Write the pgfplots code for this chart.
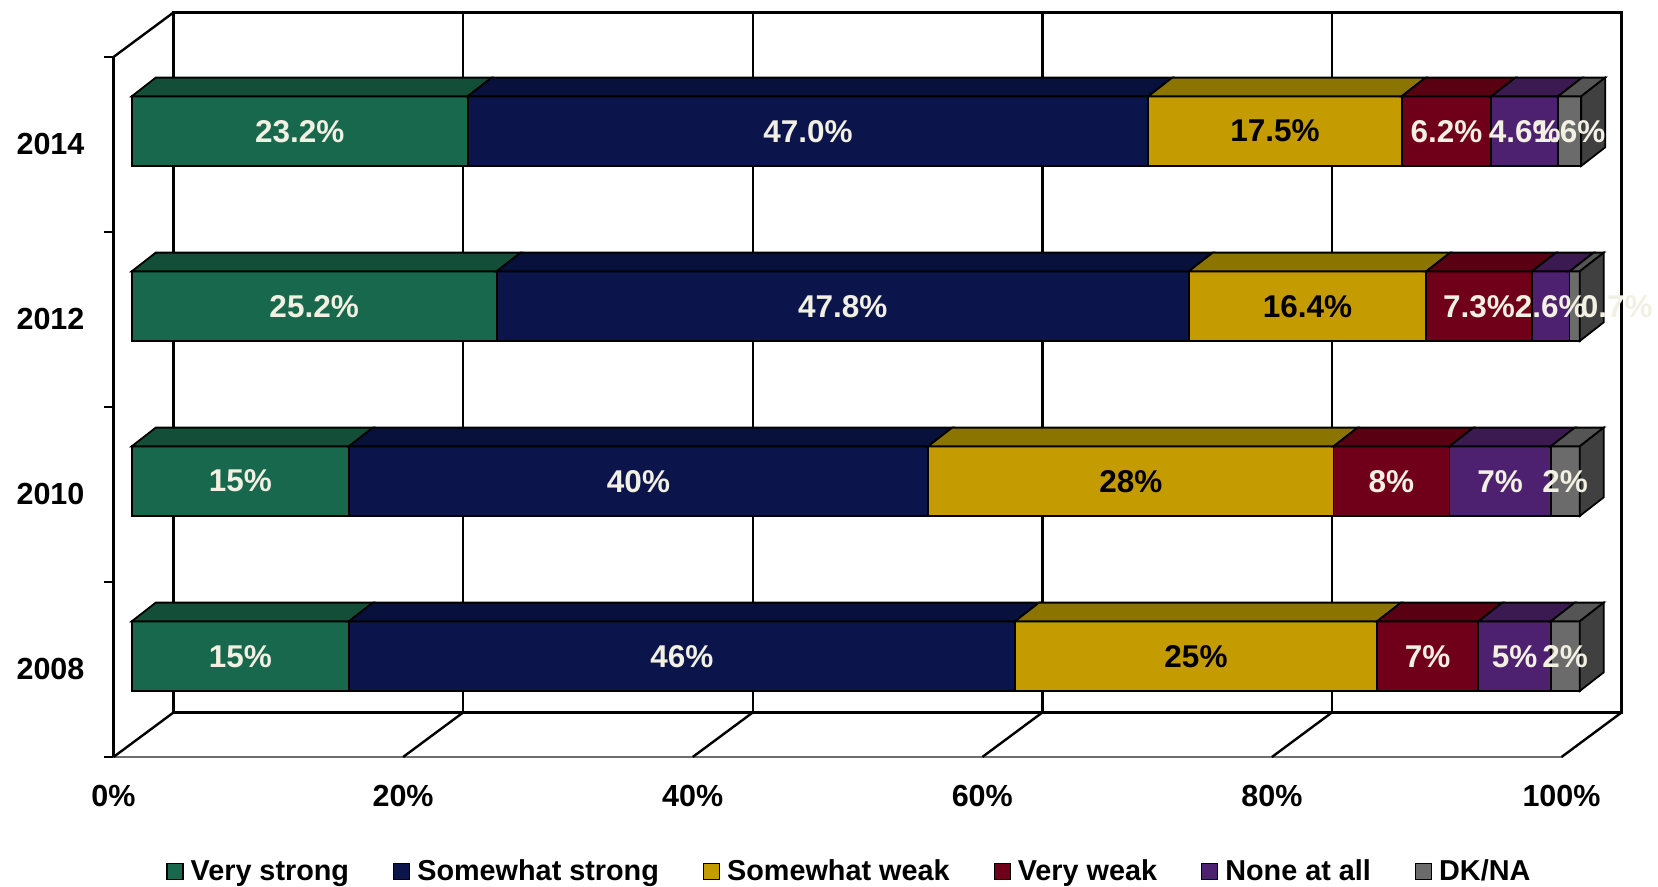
\documentclass[border=0pt]{standalone}
\usepackage{fontspec}
\setmainfont{Liberation Sans}
\usepackage{pgfplots}
\usepackage{pgfplotstable}
\pgfplotsset{compat=1.18}

% front faces, top faces and the dark end face
\definecolor{col1}{HTML}{17684C}\definecolor{top1}{HTML}{134F38}
\definecolor{col2}{HTML}{0B154C}\definecolor{top2}{HTML}{08103C}
\definecolor{col3}{HTML}{C49B00}\definecolor{top3}{HTML}{8B7400}
\definecolor{col4}{HTML}{70001A}\definecolor{top4}{HTML}{590013}
\definecolor{col5}{HTML}{4E2170}\definecolor{top5}{HTML}{3B1A52}
\definecolor{col6}{HTML}{6B6B6B}\definecolor{top6}{HTML}{555555}
\definecolor{side6}{HTML}{404040}
\definecolor{labelcream}{HTML}{F2F0E2}
\definecolor{floorgray}{HTML}{6E6E6E}

% s1 Very strong, s2 Somewhat strong, s3 Somewhat weak,
% s4 Very weak, s5 None at all, s6 DK/NA; prec = decimals shown;
% dkshift = sideways nudge (pt) of the DK/NA label
\pgfplotstableread{
year prec dkshift s1   s2   s3   s4  s5  s6
2008 0    0       15   46   25   7   5   2
2010 0    0       15   40   28   8   7   2
2012 1    21      25.2 47.8 16.4 7.3 2.6 0.7
2014 1    0       23.2 47.0 17.5 6.2 4.6 1.6
}\strengthdata

% depth geometry in axis units
\def\Fx{1.257}\def\Fy{0.076}   % front face of the bars behind the front plane
\def\Bx{1.66}\def\By{0.107}    % depth of the bars
\def\hh{0.199}                 % half bar height

\newcommand\ticklabelfont{\fontsize{15.25}{18}\selectfont\bfseries}
\newcommand\barfont{\fontsize{15.75}{18}\selectfont\bfseries}
\newcommand\legendfont{\fontsize{14.4}{17}\selectfont\bfseries}

\tikzset{frame/.style={draw=black, line width=1.2pt}}

\begin{document}
\begin{tikzpicture}
\begin{axis}[
  x=7.24pt, y=87.5pt,
  xmin=0, xmax=100, ymin=-0.5, ymax=3.5,
  clip=false,
  axis lines*=left,
  x axis line style={draw=floorgray, line width=0.7pt},
  y axis line style={draw=black, line width=1.2pt},
  xtick={0,20,...,100},
  xticklabels={0\%,20\%,40\%,60\%,80\%,100\%},
  ytick={0,1,2,3},
  yticklabels={2008,2010,2012,2014},
  minor ytick={-0.5,0.5,...,3.5},
  major tick length=0pt,
  minor tick length=4.5pt,
  tick align=outside,
  every minor tick/.append style={draw=black, line width=1.2pt},
  xticklabel style={anchor=center, yshift=-19.5pt},
  yticklabel style={anchor=center, xshift=-31.5pt},
  ticklabel style={font=\ticklabelfont},
  legend columns=6,
  legend cell align=left,
  legend image code/.code={\draw[#1, draw=black, line width=0.6pt] (0pt,-4pt) rectangle (8pt,4pt);},
  legend style={draw=none, fill=none, inner sep=0pt,
    at={(0.0363,-0.1639)}, anchor=west, font=\legendfont,
    nodes={inner sep=0pt},
    /tikz/every odd column/.append style={column sep=3.5pt},
    /tikz/every even column/.append style={column sep=22pt}},
]

% back wall with its grid, floor and left wall edges
\draw[frame] (axis cs:4.144,-0.2457) rectangle (axis cs:104.144,3.7543);
\draw[frame] (axis cs:24.144,-0.2457) -- (axis cs:24.144,3.7543);
\draw[frame] (axis cs:44.144,-0.2457) -- (axis cs:44.144,3.7543);
\draw[frame] (axis cs:64.144,-0.2457) -- (axis cs:64.144,3.7543);
\draw[frame] (axis cs:84.144,-0.2457) -- (axis cs:84.144,3.7543);
\draw[frame] (axis cs:0,-0.5) -- (axis cs:4.144,-0.2457);
\draw[frame] (axis cs:20,-0.5) -- (axis cs:24.144,-0.2457);
\draw[frame] (axis cs:40,-0.5) -- (axis cs:44.144,-0.2457);
\draw[frame] (axis cs:60,-0.5) -- (axis cs:64.144,-0.2457);
\draw[frame] (axis cs:80,-0.5) -- (axis cs:84.144,-0.2457);
\draw[frame] (axis cs:100,-0.5) -- (axis cs:104.144,-0.2457);
\draw[frame] (axis cs:0,3.5) -- (axis cs:4.144,3.7543);

% stacked 3D bars: front face, top face, end face
\pgfplotsforeachungrouped \ii in {0,...,23}{%
  \pgfmathtruncatemacro\rr{floor(\ii/6)}%
  \pgfmathtruncatemacro\cc{mod(\ii,6)+1}%
  \ifnum\cc=1 \def\acc{0}\fi
  \pgfplotstablegetelem{\rr}{s\cc}\of\strengthdata
  \let\val\pgfplotsretval
  \pgfmathsetmacro\xa{\acc+\Fx}%
  \pgfmathsetmacro\xb{\acc+\val+\Fx}%
  \pgfmathsetmacro\ylo{\rr+\Fy-\hh}%
  \pgfmathsetmacro\yhi{\rr+\Fy+\hh}%
  \pgfmathsetmacro\xaa{\xa+\Bx}%
  \pgfmathsetmacro\xbb{\xb+\Bx}%
  \pgfmathsetmacro\yhh{\yhi+\By}%
  \pgfmathsetmacro\yll{\ylo+\By}%
  \edef\cmd{\noexpand\addplot[fill=col\cc, draw=black, line width=0.9pt, forget plot]
    coordinates {(\xa,\ylo) (\xb,\ylo) (\xb,\yhi) (\xa,\yhi)} -- cycle;
    \noexpand\addplot[fill=top\cc, draw=black, line width=0.9pt, forget plot]
    coordinates {(\xa,\yhi) (\xb,\yhi) (\xbb,\yhh) (\xaa,\yhh)} -- cycle;}%
  \cmd
  \ifnum\cc=6
    \edef\cmd{\noexpand\addplot[fill=side6, draw=black, line width=0.9pt, forget plot]
      coordinates {(\xb,\ylo) (\xbb,\yll) (\xbb,\yhh) (\xb,\yhi)} -- cycle;}%
    \cmd
  \fi
  \pgfmathsetmacro\acc{\acc+\val}%
}

% value labels on the front faces
\pgfplotsforeachungrouped \ii in {0,...,23}{%
  \pgfmathtruncatemacro\rr{floor(\ii/6)}%
  \pgfmathtruncatemacro\cc{mod(\ii,6)+1}%
  \ifnum\cc=1 \def\acc{0}\fi
  \pgfplotstablegetelem{\rr}{s\cc}\of\strengthdata
  \let\val\pgfplotsretval
  \pgfplotstablegetelem{\rr}{prec}\of\strengthdata
  \let\prec\pgfplotsretval
  \def\lshift{0}%
  \ifnum\cc=6
    \pgfplotstablegetelem{\rr}{dkshift}\of\strengthdata
    \let\lshift\pgfplotsretval
  \fi
  \pgfmathsetmacro\xm{\acc+\val/2+\Fx}%
  \pgfmathsetmacro\ym{\rr+\Fy}%
  \ifnum\cc=3 \def\lc{black}\else\def\lc{labelcream}\fi
  \edef\cmd{\noexpand\node[font=\noexpand\barfont, text=\lc, inner sep=0pt, anchor=center, xshift=\lshift pt]
    at (axis cs:\xm,\ym)
    {\noexpand\pgfmathprintnumber[fixed,fixed zerofill,precision=\prec,assume math mode=true]{\val}\noexpand\%};}%
  \cmd
  \pgfmathsetmacro\acc{\acc+\val}%
}

\addlegendimage{fill=col1}\addlegendentry{Very strong}
\addlegendimage{fill=col2}\addlegendentry{Somewhat strong}
\addlegendimage{fill=col3}\addlegendentry{Somewhat weak}
\addlegendimage{fill=col4}\addlegendentry{Very weak}
\addlegendimage{fill=col5}\addlegendentry{None at all}
\addlegendimage{fill=col6}\addlegendentry{DK/NA}
\end{axis}
\pgfresetboundingbox
\path[use as bounding box]
  ([shift={(-56.75pt,-65pt)}]current axis.south west)
  rectangle ([shift={(48.25pt,28.5pt)}]current axis.north east);
\end{tikzpicture}
\end{document}
